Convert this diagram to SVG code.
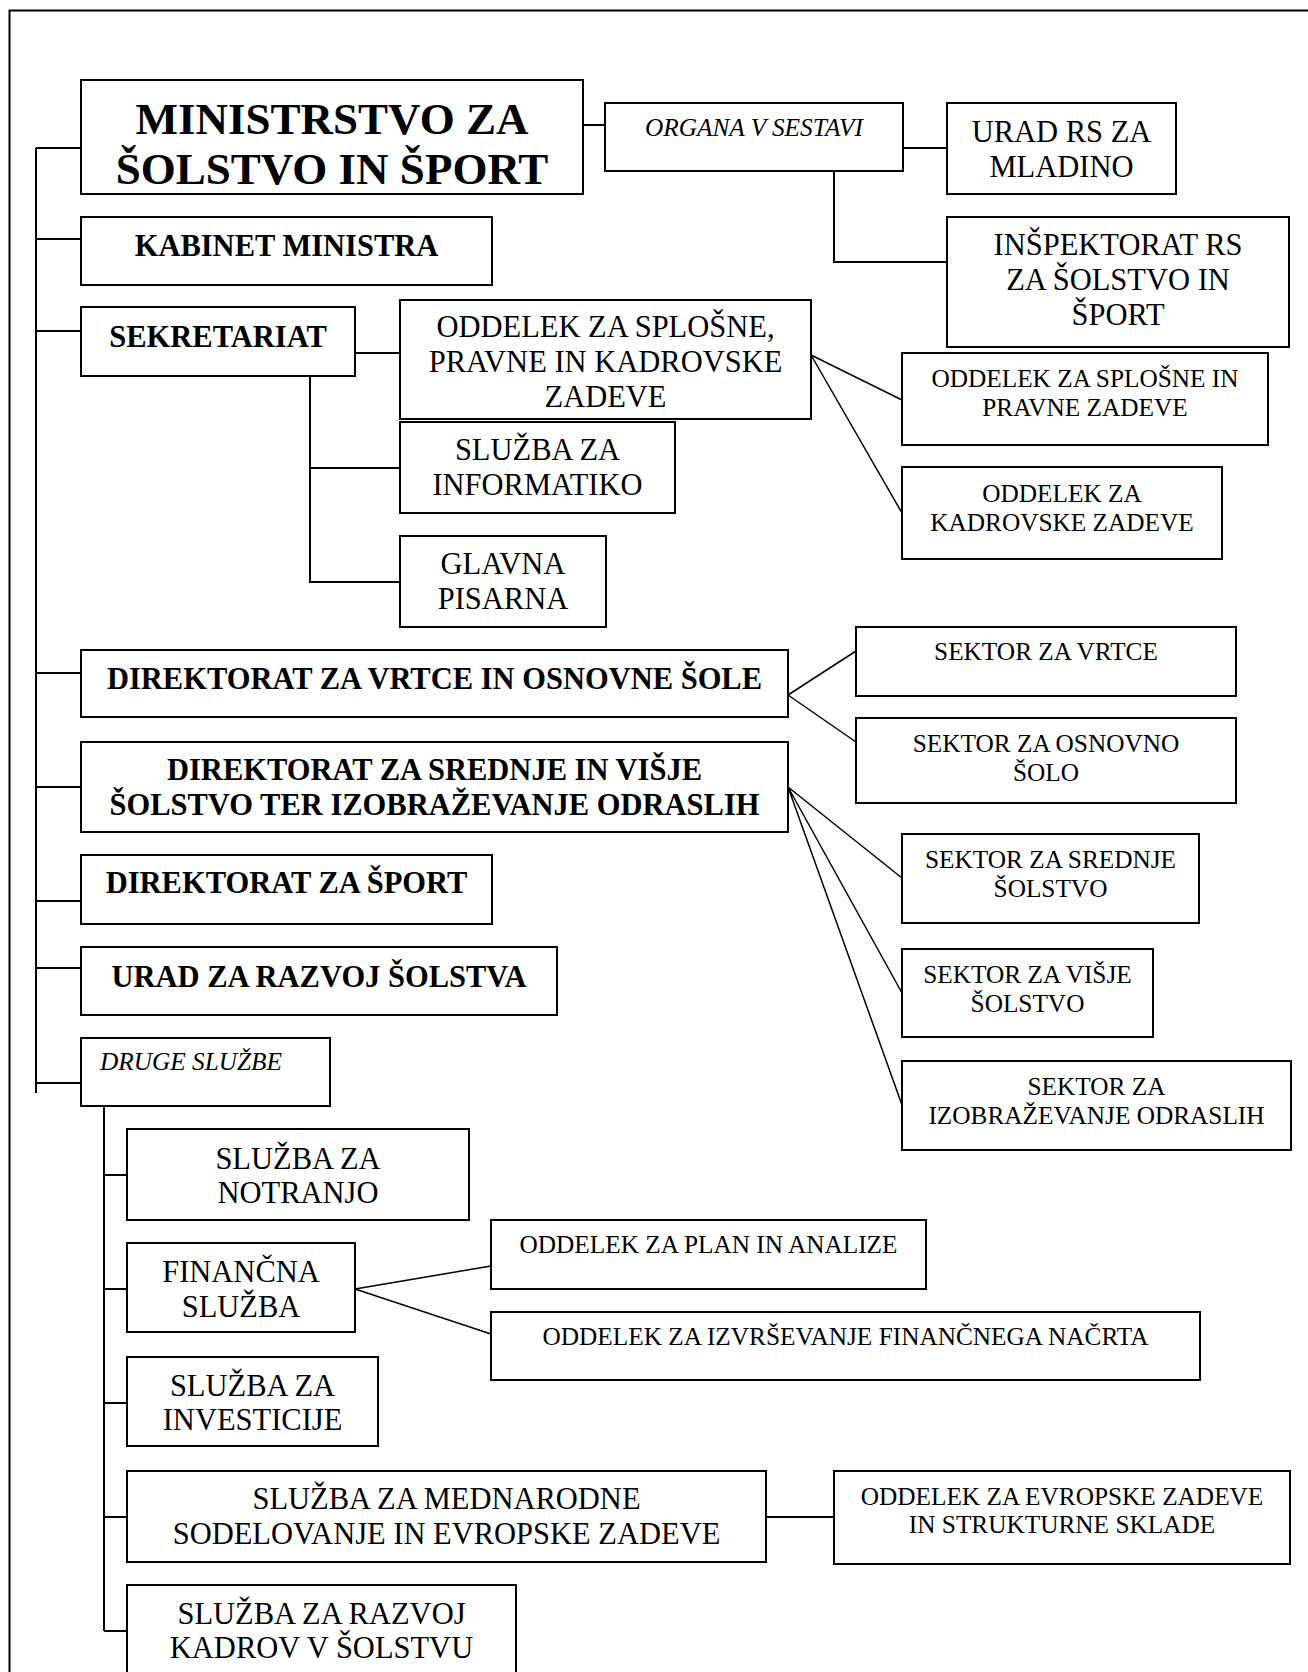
<svg xmlns="http://www.w3.org/2000/svg" width="1308" height="1672" viewBox="0 0 1308 1672">
<style>
.box{fill:#fff;stroke:#000;stroke-width:2}
.ln{fill:none;stroke:#000;stroke-width:2}
.dg{fill:none;stroke:#000;stroke-width:1.5}
text{font-family:"Liberation Serif","Times New Roman",serif;fill:#000;text-anchor:middle}
.t{font-size:45px;font-weight:bold}
.b{font-size:30.5px;font-weight:bold}
.r{font-size:30.5px}
.s{font-size:25.3px}
.i{font-size:25.3px;font-style:italic}
</style>
<rect x="0" y="0" width="1308" height="1672" fill="#fff"/>
<path class="ln" d="M9.5,1672 V10.5 H1308" stroke-width="2.5"/>
<g id="connectors">
<path class="ln" d="M36,148 V1093"/>
<path class="ln" d="M36,148 H81 M36,239 H81 M36,331 H81 M36,673 H81 M36,787 H81 M36,901 H81 M36,968 H81 M36,1083 H81"/>
<path class="ln" d="M583,125 H605"/>
<path class="ln" d="M903,148 H947"/>
<path class="ln" d="M834,171 V262 H947"/>
<path class="ln" d="M355,353 H400"/>
<path class="ln" d="M310,376 V582 H400 M310,468 H400"/>
<path class="dg" d="M811,355 L902,400 M811,355 L902,513"/>
<path class="dg" d="M788,695 L856,651 M788,695 L856,742"/>
<path class="dg" d="M788,787 L902,878 M788,787 L902,993 M788,787 L902,1105"/>
<path class="ln" d="M104,1106 V1631"/>
<path class="ln" d="M104,1175 H127 M104,1289 H127 M104,1403 H127 M104,1517 H127 M104,1631 H127"/>
<path class="dg" d="M355,1289 L491,1266 M355,1289 L491,1334"/>
<path class="ln" d="M766,1517 H834"/>
</g>
<g id="ministrstvo"><rect class="box" x="81" y="80" width="502" height="114"/><text class="t" x="332" y="134">MINISTRSTVO ZA</text><text class="t" x="332" y="184">ŠOLSTVO IN ŠPORT</text></g>
<g id="kabinet"><rect class="box" x="81" y="217" width="411" height="68"/><text class="b" x="286.5" y="256">KABINET MINISTRA</text></g>
<g id="sekretariat"><rect class="box" x="81" y="307" width="274" height="69"/><text class="b" x="218" y="347">SEKRETARIAT</text></g>
<g id="oddelek-spk"><rect class="box" x="400" y="300" width="411" height="119"/><text class="r" x="605.5" y="337">ODDELEK ZA SPLOŠNE,</text><text class="r" x="605.5" y="372">PRAVNE IN KADROVSKE</text><text class="r" x="605.5" y="407">ZADEVE</text></g>
<g id="informatika"><rect class="box" x="400" y="422" width="275" height="91"/><text class="r" x="537.5" y="460">SLUŽBA ZA</text><text class="r" x="537.5" y="495">INFORMATIKO</text></g>
<g id="pisarna"><rect class="box" x="400" y="536" width="206" height="91"/><text class="r" x="503" y="574">GLAVNA</text><text class="r" x="503" y="609">PISARNA</text></g>
<g id="organa"><rect class="box" x="605" y="103" width="298" height="68"/><text class="i" x="754" y="136">ORGANA V SESTAVI</text></g>
<g id="urad-mladino"><rect class="box" x="947" y="103" width="229" height="91"/><text class="r" x="1061.5" y="142">URAD RS ZA</text><text class="r" x="1061.5" y="177">MLADINO</text></g>
<g id="inspektorat"><rect class="box" x="947" y="217" width="342" height="130"/><text class="r" x="1118" y="255">INŠPEKTORAT RS</text><text class="r" x="1118" y="290">ZA ŠOLSTVO IN</text><text class="r" x="1118" y="325">ŠPORT</text></g>
<g id="oddelek-sp"><rect class="box" x="902" y="353" width="366" height="92"/><text class="s" x="1085" y="387">ODDELEK ZA SPLOŠNE IN</text><text class="s" x="1085" y="416">PRAVNE ZADEVE</text></g>
<g id="oddelek-k"><rect class="box" x="902" y="467" width="320" height="92"/><text class="s" x="1062" y="502">ODDELEK ZA</text><text class="s" x="1062" y="531">KADROVSKE ZADEVE</text></g>
<g id="dir-vrtce"><rect class="box" x="81" y="650" width="707" height="67"/><text class="b" x="434.5" y="689">DIREKTORAT ZA VRTCE IN OSNOVNE ŠOLE</text></g>
<g id="sektor-vrtce"><rect class="box" x="856" y="627" width="380" height="69"/><text class="s" x="1046" y="660">SEKTOR ZA VRTCE</text></g>
<g id="sektor-osnovno"><rect class="box" x="856" y="718" width="380" height="85"/><text class="s" x="1046" y="752">SEKTOR ZA OSNOVNO</text><text class="s" x="1046" y="781">ŠOLO</text></g>
<g id="dir-srednje"><rect class="box" x="81" y="742" width="707" height="90"/><text class="b" x="434.5" y="780">DIREKTORAT ZA SREDNJE IN VIŠJE</text><text class="b" x="434.5" y="815">ŠOLSTVO TER IZOBRAŽEVANJE ODRASLIH</text></g>
<g id="sektor-srednje"><rect class="box" x="902" y="834" width="297" height="89"/><text class="s" x="1050.5" y="868">SEKTOR ZA SREDNJE</text><text class="s" x="1050.5" y="897">ŠOLSTVO</text></g>
<g id="sektor-visje"><rect class="box" x="902" y="949" width="251" height="88"/><text class="s" x="1027.5" y="983">SEKTOR ZA VIŠJE</text><text class="s" x="1027.5" y="1012">ŠOLSTVO</text></g>
<g id="sektor-odrasli"><rect class="box" x="902" y="1061" width="389" height="89"/><text class="s" x="1096.5" y="1095">SEKTOR ZA</text><text class="s" x="1096.5" y="1124">IZOBRAŽEVANJE ODRASLIH</text></g>
<g id="dir-sport"><rect class="box" x="81" y="855" width="411" height="69"/><text class="b" x="286.5" y="893">DIREKTORAT ZA ŠPORT</text></g>
<g id="urad-razvoj"><rect class="box" x="81" y="947" width="476" height="68"/><text class="b" x="319" y="987">URAD ZA RAZVOJ ŠOLSTVA</text></g>
<g id="druge"><rect class="box" x="81" y="1038" width="249" height="68"/><text class="i" x="100" y="1070" style="text-anchor:start">DRUGE SLUŽBE</text></g>
<g id="notranjo"><rect class="box" x="127" y="1129" width="342" height="91"/><text class="r" x="298" y="1169">SLUŽBA ZA</text><text class="r" x="298" y="1203">NOTRANJO</text></g>
<g id="financna"><rect class="box" x="127" y="1243" width="228" height="89"/><text class="r" x="241" y="1282">FINANČNA</text><text class="r" x="241" y="1317">SLUŽBA</text></g>
<g id="oddelek-plan"><rect class="box" x="491" y="1220" width="435" height="69"/><text class="s" x="708.5" y="1253">ODDELEK ZA PLAN IN ANALIZE</text></g>
<g id="oddelek-izvrs"><rect class="box" x="491" y="1312" width="709" height="68"/><text class="s" x="845.5" y="1345">ODDELEK ZA IZVRŠEVANJE FINANČNEGA NAČRTA</text></g>
<g id="investicije"><rect class="box" x="127" y="1357" width="251" height="89"/><text class="r" x="252.5" y="1396">SLUŽBA ZA</text><text class="r" x="252.5" y="1430">INVESTICIJE</text></g>
<g id="mednarodne"><rect class="box" x="127" y="1471" width="639" height="91"/><text class="r" x="446.5" y="1509">SLUŽBA ZA MEDNARODNE</text><text class="r" x="446.5" y="1544">SODELOVANJE IN EVROPSKE ZADEVE</text></g>
<g id="oddelek-evropske"><rect class="box" x="834" y="1471" width="456" height="93"/><text class="s" x="1062" y="1505">ODDELEK ZA EVROPSKE ZADEVE</text><text class="s" x="1062" y="1533">IN STRUKTURNE SKLADE</text></g>
<g id="razvoj-kadrov"><rect class="box" x="127" y="1585" width="389" height="120"/><text class="r" x="321.5" y="1624">SLUŽBA ZA RAZVOJ</text><text class="r" x="321.5" y="1658">KADROV V ŠOLSTVU</text></g>
</svg>
